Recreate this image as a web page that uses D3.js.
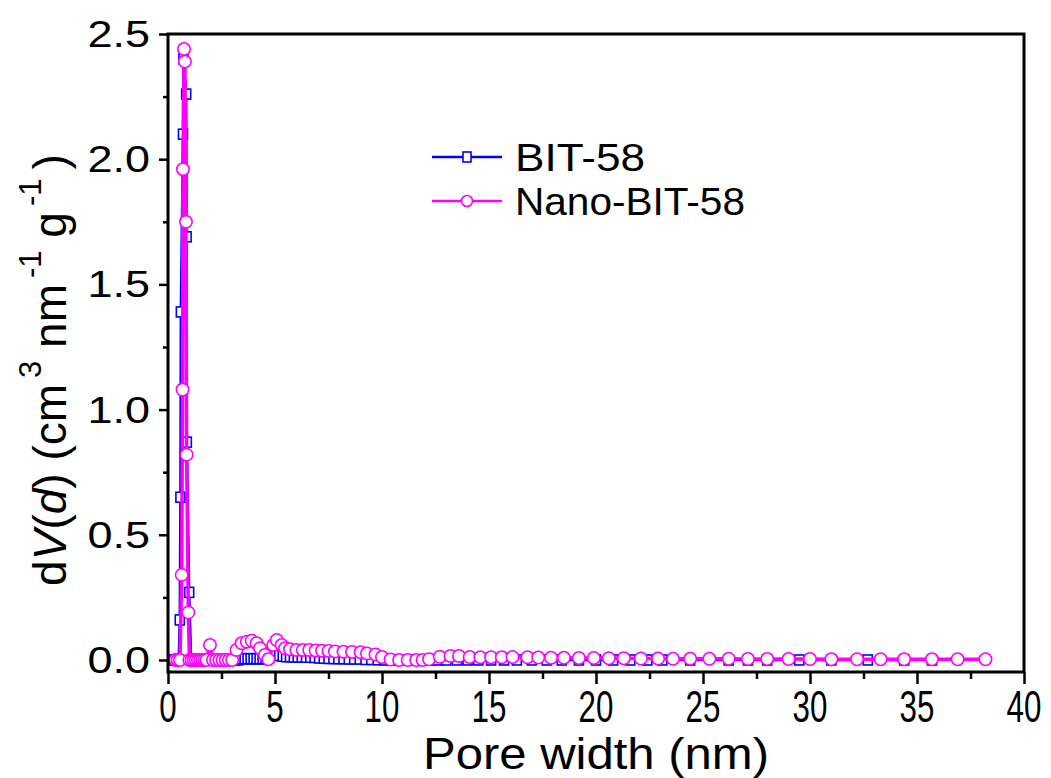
<!DOCTYPE html>
<html>
<head>
<meta charset="utf-8">
<script src="https://cdn.jsdelivr.net/npm/d3@7"></script>
<style>
  body { margin: 0; background: #fff; }
  svg { display: block; font-family: "Liberation Sans", Arial, sans-serif; }
</style>
</head>
<body>
<svg width="1051" height="778"></svg>
<script>
// pore width (nm), dV(d)
var bit58 = [
    [0.28, 0], [0.36, 0], [0.44, 0], [0.50, 0], [0.55, 0.16], [0.58, 0.65], [0.60, 1.39],
    [0.70, 2.10], [0.72, 2.40], [0.85, 2.26], [0.87, 1.69], [0.88, 0.87], [0.99, 0.27],
    [1.08, 0], [1.17, 0], [1.28, 0], [1.40, 0], [1.52, 0], [1.64, 0], [1.76, 0], [1.88, 0],
    [2.00, 0], [2.13, 0], [2.26, 0], [2.40, 0], [2.54, 0], [2.68, 0], [2.83, 0], [2.98, 0],
    [3.13, 0], [3.28, 0], [3.43, 0.005], [3.58, 0.005], [3.72, 0.005], [3.86, 0.005],
    [4.00, 0.005], [4.14, 0.005], [4.28, 0.005], [4.42, 0.005], [4.56, 0.005], [4.72, 0.008],
    [4.88, 0.018], [5.04, 0.03], [5.20, 0.018], [5.36, 0.015], [5.52, 0.013], [5.70, 0.013],
    [5.88, 0.012], [6.06, 0.012], [6.25, 0.012], [6.45, 0.011], [6.65, 0.011], [6.85, 0.01],
    [7.06, 0.008], [7.28, 0.007], [7.50, 0.006], [7.73, 0.006], [7.96, 0.005], [8.20, 0.005],
    [8.45, 0.004], [8.70, 0.004], [8.96, 0.004], [9.23, 0.002], [9.50, 0.002], [9.80, 0.001],
    [10.1, 0], [10.4, 0], [10.7, 0], [11.0, 0], [11.4, 0], [11.8, 0], [12.2, 0], [12.6, 0],
    [13.0, 0], [13.5, 0], [14.0, 0], [14.5, 0], [15.1, 0], [15.7, 0], [16.3, 0], [17.0, 0],
    [17.7, 0], [18.4, 0], [19.2, 0], [20.0, 0], [20.8, 0], [21.6, 0], [22.4, 0], [23.1, 0],
    [24.4, 0], [26.2, 0], [27.1, 0], [28.0, 0], [29.5, 0], [31.0, 0], [32.7, 0], [34.4, 0],
    [35.7, 0]
];

var nanoBit58 = [
    [0.35, 0], [0.45, 0], [0.56, 0], [0.64, 0.34], [0.68, 1.08], [0.70, 1.96], [0.75, 2.44],
    [0.79, 2.39], [0.84, 1.75], [0.87, 0.82], [0.95, 0.19], [1.00, 0],
    [1.10, 0], [1.20, 0], [1.30, 0], [1.40, 0], [1.50, 0], [1.60, 0], [1.70, 0], [1.80, 0],
    [1.96, 0.06], [2.10, 0], [2.25, 0], [2.40, 0], [2.55, 0], [2.70, 0], [2.85, 0], [3.00, 0],
    [3.20, 0.04], [3.44, 0.067], [3.68, 0.073], [3.91, 0.077], [4.14, 0.067], [4.30, 0.047],
    [4.53, 0.02], [4.69, 0.003], [4.92, 0.06], [5.08, 0.08], [5.31, 0.06], [5.47, 0.047],
    [5.70, 0.043], [6.00, 0.04], [6.30, 0.04], [6.60, 0.04], [6.90, 0.038], [7.20, 0.037],
    [7.50, 0.036], [7.80, 0.034], [8.20, 0.033], [8.60, 0.032], [9.00, 0.031], [9.30, 0.026],
    [9.70, 0.022], [10.0, 0.012], [10.4, 0.002], [10.8, 0], [11.2, 0], [11.6, 0], [11.9, 0],
    [12.2, 0.003], [12.7, 0.013], [13.2, 0.016], [13.6, 0.016], [14.1, 0.012], [14.6, 0.011],
    [15.1, 0.011], [15.6, 0.011], [16.1, 0.012], [16.8, 0.011], [17.3, 0.01], [17.9, 0.009],
    [18.5, 0.009], [19.2, 0.008], [19.9, 0.008], [20.6, 0.007], [21.3, 0.007], [22.1, 0.006],
    [22.9, 0.006], [23.6, 0.005], [24.4, 0.005], [25.3, 0.005], [26.2, 0.005], [27.1, 0.004],
    [28.0, 0.004], [29.0, 0.004], [30.0, 0.004], [31.0, 0.003], [32.2, 0.003], [33.3, 0.003],
    [34.4, 0.003], [35.7, 0.003], [36.9, 0.003], [38.2, 0.003]
];

var xTicks = [0, 5, 10, 15, 20, 25, 30, 35, 40];
var yTicks = [0.0, 0.5, 1.0, 1.5, 2.0, 2.5];
var seriesNames = ["BIT-58", "Nano-BIT-58"];

window.addEventListener("DOMContentLoaded", function () {
    drawChart();
});

function drawChart() {
    var svg = d3.select("svg");
    var left = 168, right = 1024, top = 34, bottom = 672;

    var x = d3.scaleLinear().domain([0, 40]).range([left, right]);
    var y = d3.scaleLinear().domain([-0.048, 2.5]).range([bottom, top]);

    var line = d3.line()
        .x(function (d) { return x(d[0]); })
        .y(function (d) { return y(d[1]); });

    // BIT-58 - blue squares
    svg.append("path")
        .datum(bit58)
        .attr("d", line)
        .attr("fill", "none")
        .attr("stroke", "#0000ff")
        .attr("stroke-width", 2.5);

    svg.selectAll("rect.bit")
        .data(bit58)
        .enter()
        .append("rect")
        .attr("class", "bit")
        .attr("x", function (d) { return x(d[0]) - 4.5; })
        .attr("y", function (d) { return y(d[1]) - 5; })
        .attr("width", 9)
        .attr("height", 10)
        .attr("fill", "#fff")
        .attr("stroke", "#0000ff")
        .attr("stroke-width", 1.6);

    // Nano-BIT-58 - magenta circles
    svg.append("path")
        .datum(nanoBit58)
        .attr("d", line)
        .attr("fill", "none")
        .attr("stroke", "#ff00ff")
        .attr("stroke-width", 3.5);

    svg.selectAll("circle.nano")
        .data(nanoBit58)
        .enter()
        .append("circle")
        .attr("class", "nano")
        .attr("cx", function (d) { return x(d[0]); })
        .attr("cy", function (d) { return y(d[1]); })
        .attr("r", 6.2)
        .attr("fill", "#fff")
        .attr("stroke", "#ff00ff")
        .attr("stroke-width", 1.6);

    // frame
    svg.append("rect")
        .attr("x", left)
        .attr("y", top)
        .attr("width", right - left)
        .attr("height", bottom - top)
        .attr("fill", "none")
        .attr("stroke", "#000")
        .attr("stroke-width", 3);

    // X axis
    var xAxis = svg.append("g")
        .attr("transform", "translate(0," + bottom + ")")
        .call(d3.axisBottom(x).tickValues(d3.range(0, 40.1, 2.5)).tickSize(0).tickFormat(""));
    xAxis.select(".domain").remove();
    xAxis.selectAll(".tick line")
        .attr("y2", function (d) { return d % 5 === 0 ? 12 : 7; })
        .attr("stroke-width", 2.5);

    svg.selectAll("text.xt")
        .data(xTicks)
        .enter()
        .append("text")
        .attr("class", "xt")
        .attr("transform", function (d) { return "translate(" + x(d) + ",722) scale(0.95,1.35)"; })
        .attr("text-anchor", "middle")
        .attr("font-size", 33)
        .text(function (d) { return d; });

    // Y axis
    var yAxis = svg.append("g")
        .attr("transform", "translate(" + left + ",0)")
        .call(d3.axisLeft(y).tickValues(d3.range(0, 2.51, 0.25)).tickSize(0).tickFormat(""));
    yAxis.select(".domain").remove();
    yAxis.selectAll(".tick line")
        .attr("x2", function (d) { return Math.abs(d * 2 - Math.round(d * 2)) < 1e-6 ? -9 : -5; })
        .attr("stroke-width", 2.5);

    svg.selectAll("text.yt")
        .data(yTicks)
        .enter()
        .append("text")
        .attr("class", "yt")
        .attr("transform", function (d) { return "translate(150," + y(d) + ") scale(1.25,1)"; })
        .attr("dy", "0.36em")
        .attr("text-anchor", "end")
        .attr("font-size", 36)
        .text(function (d) { return d3.format(".1f")(d); });

    // axis titles
    svg.append("text")
        .attr("x", (left + right) / 2)
        .attr("y", 769)
        .attr("text-anchor", "middle")
        .attr("font-size", 45)
        .attr("textLength", 346)
        .attr("lengthAdjust", "spacingAndGlyphs")
        .text("Pore width (nm)");

    var yt = svg.append("text")
        .attr("transform", "translate(66," + ((top + bottom) / 2 + 17) + ") rotate(-90)")
        .attr("text-anchor", "middle")
        .attr("font-size", 46);
    yt.append("tspan").text("d");
    yt.append("tspan").attr("font-style", "italic").text("V");
    yt.append("tspan").text("(");
    yt.append("tspan").attr("font-style", "italic").text("d");
    yt.append("tspan").text(") (cm");
    yt.append("tspan").attr("font-size", 31).attr("dx", 6).attr("dy", -25).text("3");
    yt.append("tspan").attr("dy", 25).text("  nm");
    yt.append("tspan").attr("font-size", 31).attr("dx", 6).attr("dy", -25).text("-1");
    yt.append("tspan").attr("dy", 25).text("  g");
    yt.append("tspan").attr("font-size", 31).attr("dx", 6).attr("dy", -25).text("-1");
    yt.append("tspan").attr("dy", 25).attr("dx", 9).text(")");

    // legend
    var legend = svg.append("g");
    var legendRows = [
        {name: seriesNames[0], color: "#0000ff", y: 157, shape: "square", w: 130},
        {name: seriesNames[1], color: "#ff00ff", y: 201, shape: "circle", w: 230}
    ];
    legendRows.forEach(function (r) {
        legend.append("line")
            .attr("x1", 432).attr("x2", 502)
            .attr("y1", r.y).attr("y2", r.y)
            .attr("stroke", r.color)
            .attr("stroke-width", 2.5);
        if (r.shape === "square") {
            legend.append("rect")
                .attr("x", 463).attr("y", r.y - 5)
                .attr("width", 8).attr("height", 10)
                .attr("fill", "#fff").attr("stroke", r.color).attr("stroke-width", 1.6);
        } else {
            legend.append("circle")
                .attr("cx", 467).attr("cy", r.y).attr("r", 5.5)
                .attr("fill", "#fff").attr("stroke", r.color).attr("stroke-width", 1.6);
        }
        legend.append("text")
            .attr("x", 515)
            .attr("y", r.y + 14)
            .attr("font-size", 39)
            .attr("textLength", r.w)
            .attr("lengthAdjust", "spacingAndGlyphs")
            .text(r.name);
    });
}
</script>
</body>
</html>
